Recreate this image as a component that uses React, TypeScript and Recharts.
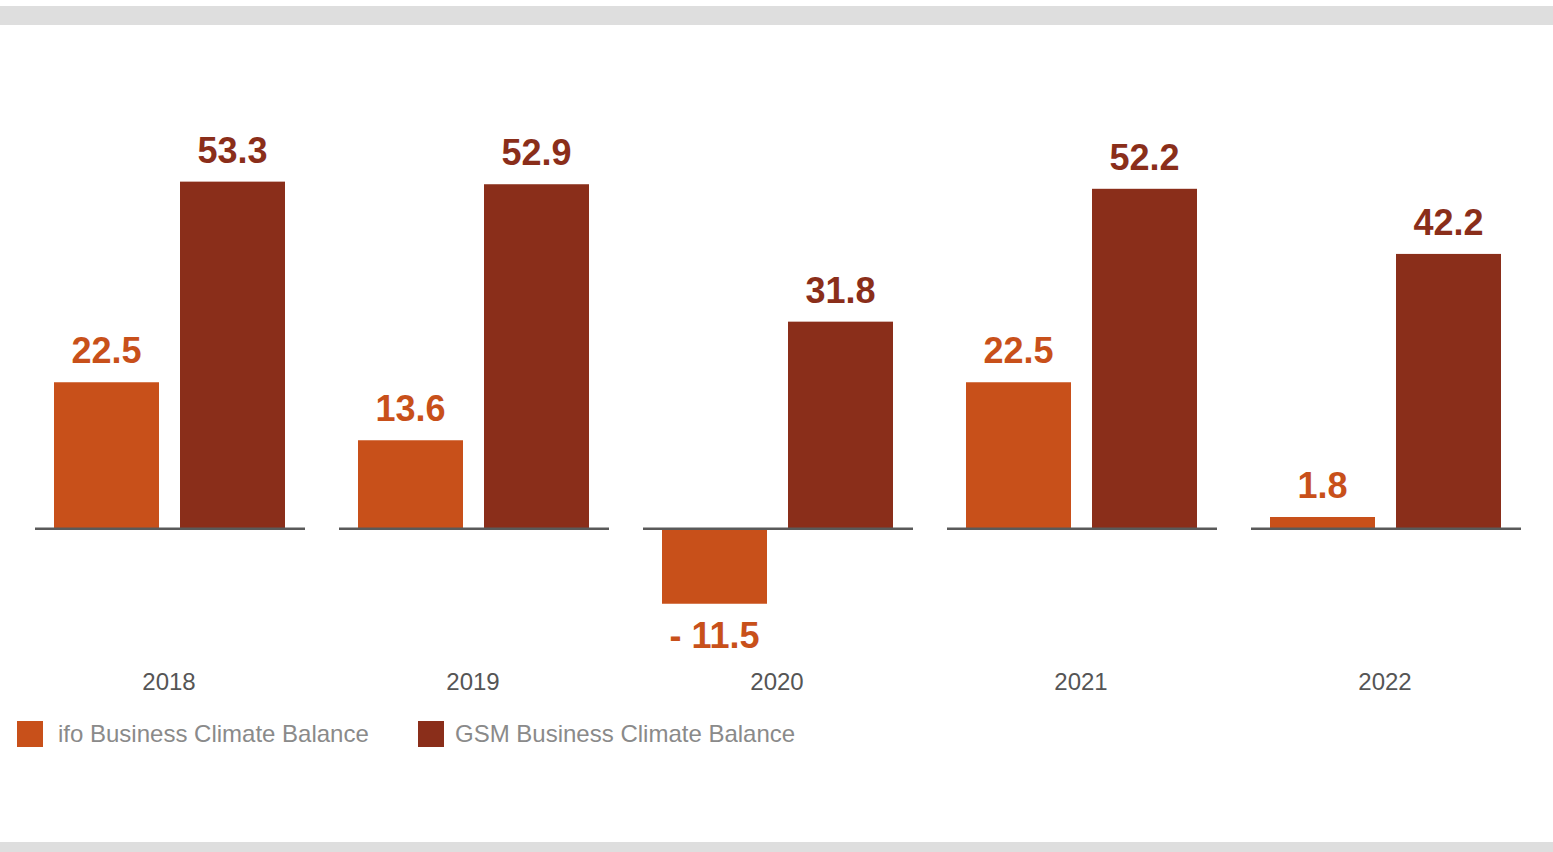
import { BarChart, Bar, XAxis, YAxis, LabelList } from 'recharts';

const years = ['2018', '2019', '2020', '2021', '2022'];
const ifoBalance = [22.5, 13.6, -11.5, 22.5, 1.8];
const gsmBalance = [53.3, 52.9, 31.8, 52.2, 42.2];

const IFO_COLOR = '#c8501a';
const GSM_COLOR = '#8a2e1a';
const BAR_SIZE = 105;
const BAR_GAP = 21;

const data = years.map((year, i) => ({
  year,
  ifo: ifoBalance[i],
  gsm: gsmBalance[i],
}));

const formatValue = (v: any) => {
  const n = Number(v);
  return n < 0 ? `- ${Math.abs(n).toFixed(1)}` : n.toFixed(1);
};

// draws the gsm bar plus the short zero line under each year group
function GsmShape(props: any) {
  const { x, y, width, height } = props;
  const zeroY = y + height;
  const left = x - BAR_GAP - BAR_SIZE - 19;
  const right = x + width + 20;
  return (
    <g>
      <rect x={x} y={Math.min(y, zeroY)} width={width} height={Math.abs(height)} fill={GSM_COLOR} />
      <line x1={left} x2={right} y1={zeroY} y2={zeroY} stroke="#5a5a5a" strokeWidth={2.5} />
    </g>
  );
}

const legendItems = [
  { name: 'ifo Business Climate Balance', color: IFO_COLOR, left: 17, textLeft: 58 },
  { name: 'GSM Business Climate Balance', color: GSM_COLOR, left: 418, textLeft: 455 },
];

export default function App() {
  return (
    <div
      style={{
        position: 'absolute',
        left: 0,
        top: 0,
        width: 1553,
        height: 852,
        background: '#fff',
        fontFamily: '"Liberation Sans", Arial, sans-serif',
        overflow: 'hidden',
      }}
    >
      <div style={{ position: 'absolute', left: 0, top: 6, width: 1553, height: 19, background: '#dedede' }} />
      <div style={{ position: 'absolute', left: 0, top: 842, width: 1553, height: 10, background: '#dedede' }} />
      <div style={{ position: 'absolute', left: 0, top: 0 }}>
        <BarChart
          width={1553}
          height={852}
          data={data}
          margin={{ top: 138, right: 16, left: 17, bottom: 153 }}
          barSize={BAR_SIZE}
          barGap={BAR_GAP}
        >
          <YAxis hide domain={[-20, 60]} />
          <XAxis
            dataKey="year"
            height={40}
            axisLine={false}
            tickLine={false}
            tickSize={6}
            tickMargin={8}
            tick={{ fontSize: 24, fill: '#555' }}
          />
          <Bar dataKey="ifo" fill={IFO_COLOR} isAnimationActive={false}>
            <LabelList
              dataKey="ifo"
              position="top"
              offset={19}
              formatter={formatValue}
              style={{ fontSize: 36, fontWeight: 'bold', fill: IFO_COLOR }}
            />
          </Bar>
          <Bar dataKey="gsm" fill={GSM_COLOR} shape={<GsmShape />} isAnimationActive={false}>
            <LabelList
              dataKey="gsm"
              position="top"
              offset={19}
              formatter={formatValue}
              style={{ fontSize: 36, fontWeight: 'bold', fill: GSM_COLOR }}
            />
          </Bar>
        </BarChart>
      </div>
      {legendItems.map((item) => (
        <div key={item.name}>
          <div
            style={{ position: 'absolute', left: item.left, top: 721, width: 26, height: 26, background: item.color }}
          />
          <span
            style={{
              position: 'absolute',
              left: item.textLeft,
              top: 721,
              fontSize: 24,
              color: '#8a8a8a',
              lineHeight: '26px',
              whiteSpace: 'nowrap',
            }}
          >
            {item.name}
          </span>
        </div>
      ))}
    </div>
  );
}
